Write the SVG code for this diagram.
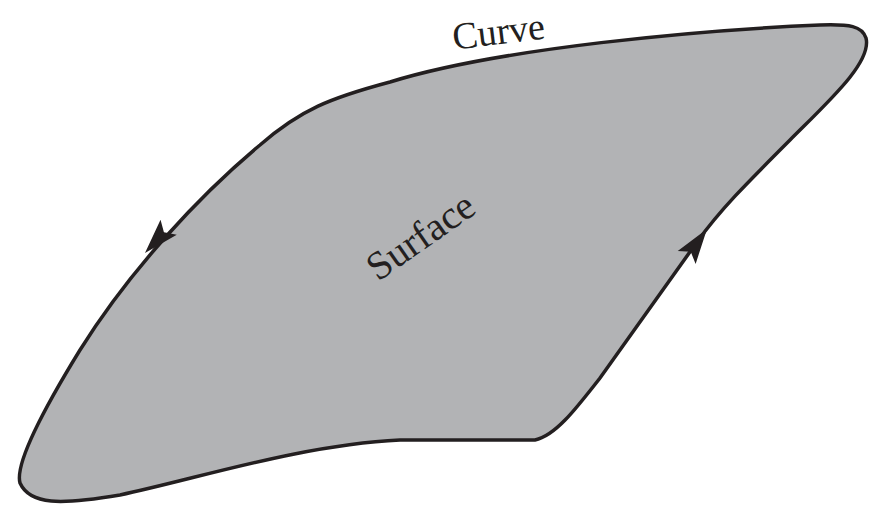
<svg xmlns="http://www.w3.org/2000/svg" width="870" height="511" viewBox="0 0 870 511">
<style>
.surf{fill:#b2b3b5;stroke:#231f20;stroke-width:3.5;stroke-linejoin:round}
.lbl{font-family:"Liberation Serif","Times New Roman",serif;fill:#231f20}
.ah{fill:#231f20}
</style>
<defs>
<path id="arrow" d="M0 0 L-35 -11 L-28 0 L-35 11 Z"/>
</defs>
<rect width="870" height="511" fill="#ffffff"/>
<g id="surface">
<path class="surf" d="M535 440 C555 436 575 410 600 378 L697 242 C720 210 745 185 790 140 C830 100 872 62 866 38 C862 26 850 24 820 25 C700 30 500 48 390 82 C330 98 300 110 260 145 C200 195 130 270 80 350 C40 415 15 465 20 483 C30 505 60 505 120 495 C200 478 300 445 400 440 L535 440 Z"/>
<text class="lbl" x="428" y="247" font-size="40" text-anchor="middle" transform="rotate(-35 428 247)">Surface</text>
</g>
<g id="connectors">
<use href="#arrow" class="ah" transform="translate(145 253) rotate(132.5)"/>
<use href="#arrow" class="ah" transform="translate(707 229) rotate(-54.5)"/>
</g>
<g id="curve-label">
<text class="lbl" x="500" y="44" font-size="38" text-anchor="middle" transform="rotate(-7 500 44)">Curve</text>
</g>
</svg>
